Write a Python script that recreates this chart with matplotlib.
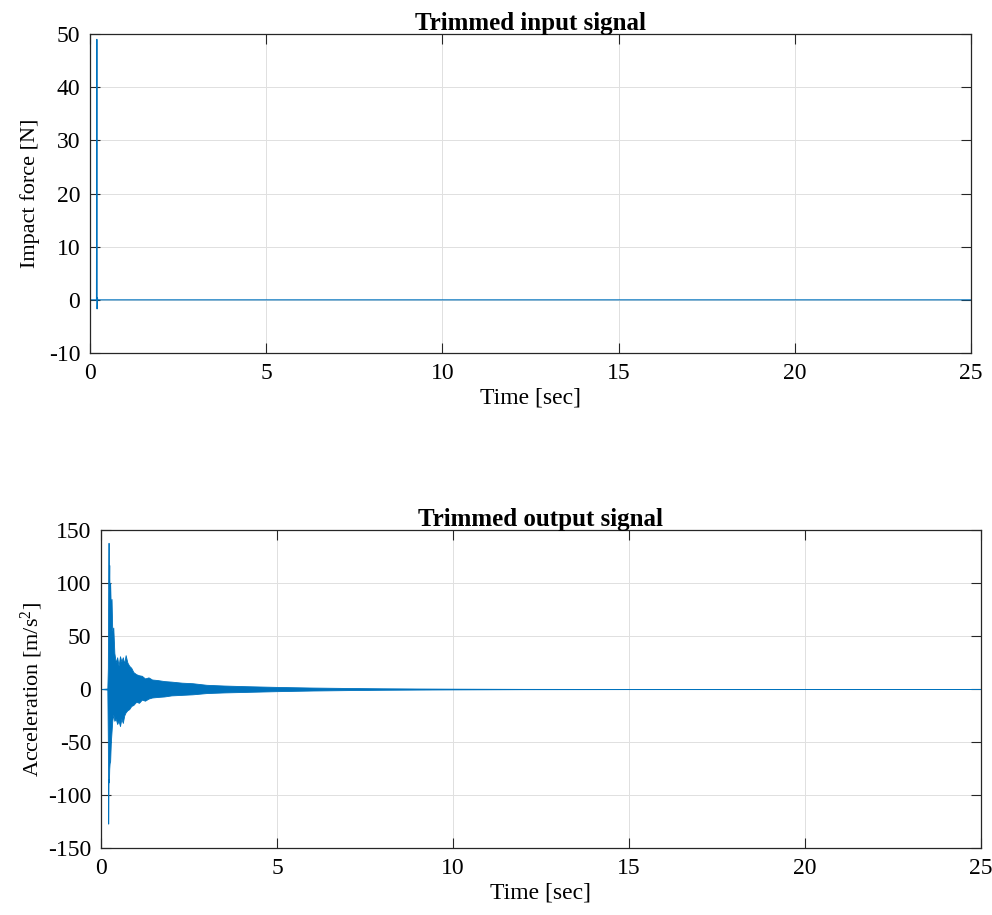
import matplotlib
matplotlib.use('Agg')
import matplotlib.pyplot as plt

# impact hammer force
t_force = [0.0, 0.185, 0.195, 0.202, 0.21, 0.22, 25.0]
force = [0.0, 0.0, 49.0, -1.7, 0.4, 0.0, 0.0]

t_env = [0.0, 0.18, 0.195, 0.205, 0.215, 0.225, 0.235, 0.245, 0.26, 0.28, 0.30,
         0.32, 0.35, 0.38, 0.42, 0.46, 0.50, 0.54, 0.58, 0.62, 0.66, 0.70,
         0.75, 0.80, 0.86, 0.92, 1.00, 1.08, 1.16, 1.25, 1.35, 1.45, 1.60,
         1.80, 2.00, 2.30, 2.60, 3.00, 3.50, 4.00, 4.50, 5.00, 6.00, 7.00,
         8.00, 9.00, 10.0, 12.0, 15.0, 25.0]
acc_upper = [0.0, 0.5, 20, 100, 138, 95, 117, 80, 100, 75, 85,
             55, 58, 34, 25, 30, 22, 31, 26, 30, 24, 32,
             25, 22, 20, 16, 14, 13, 12.5, 10, 11, 9, 8.5,
             7.5, 7, 6, 5.5, 4, 3.3, 2.8, 2.4, 2.0, 1.4, 1.0,
             0.7, 0.5, 0.35, 0.15, 0.08, 0.03]
acc_lower = [0.0, -0.5, -50, -127, -85, -88, -75, -70, -68, -50, -40,
             -30, -24, -30, -28, -33, -30, -35, -28, -32, -25, -22,
             -20, -19, -16, -15, -12, -13, -10, -11, -9, -8, -7.5,
             -7, -6, -5.5, -5, -3.8, -3.2, -2.8, -2.4, -2.0, -1.4, -1.0,
             -0.7, -0.5, -0.35, -0.15, -0.08, -0.03]

x_ticks = [0, 5, 10, 15, 20, 25]
force_ticks = [-10, 0, 10, 20, 30, 40, 50]
acc_ticks = [-150, -100, -50, 0, 50, 100, 150]

line_col = '#0072BD'

plt.rcParams['font.family'] = ['Liberation Serif', 'DejaVu Serif']
plt.rcParams['mathtext.fontset'] = 'custom'
plt.rcParams['mathtext.rm'] = 'Liberation Serif'
plt.rcParams['mathtext.it'] = 'Liberation Serif:italic'
plt.rcParams['axes.unicode_minus'] = False
tick_fs = 17
label_fs = 16


def style(ax, yticks):
    ax.set_xlim(0, 25)
    ax.set_xticks(x_ticks)
    ax.set_yticks(yticks)
    ax.set_ylim(yticks[0], yticks[-1])
    ax.grid(True, color='#e0e0e0', linewidth=0.7)
    ax.set_axisbelow(True)
    ax.tick_params(direction='in', length=7, width=0.8, color='#262626',
                   top=True, right=True, labelsize=tick_fs, pad=7)
    for s in ax.spines.values():
        s.set_color('#262626')
        s.set_linewidth(0.9)
    ax.set_xlabel('Time [sec]', fontsize=tick_fs, labelpad=3)


fig = plt.figure(figsize=(9.92, 9.15), dpi=100)

ax1 = fig.add_axes([0.0907, 0.6142, 0.888, 0.3486])
ax1.plot(t_force, force, color=line_col, linewidth=0.8)
style(ax1, force_ticks)
ax1.set_ylabel('Impact force [N]', fontsize=label_fs, labelpad=6)
ax1.set_title('Trimmed input signal', fontsize=18, fontweight='bold', pad=3)

ax2 = fig.add_axes([0.1018, 0.0732, 0.887, 0.3475])
ax2.fill_between(t_env, acc_lower, acc_upper, facecolor=line_col,
                 edgecolor=line_col, linewidth=0.6)
style(ax2, acc_ticks)
ax2.set_ylabel(r'Acceleration [m/s$^2$]', fontsize=label_fs, labelpad=2)
ax2.set_title('Trimmed output signal', fontsize=18, fontweight='bold', pad=3)

fig.savefig('out.png', dpi=100)
